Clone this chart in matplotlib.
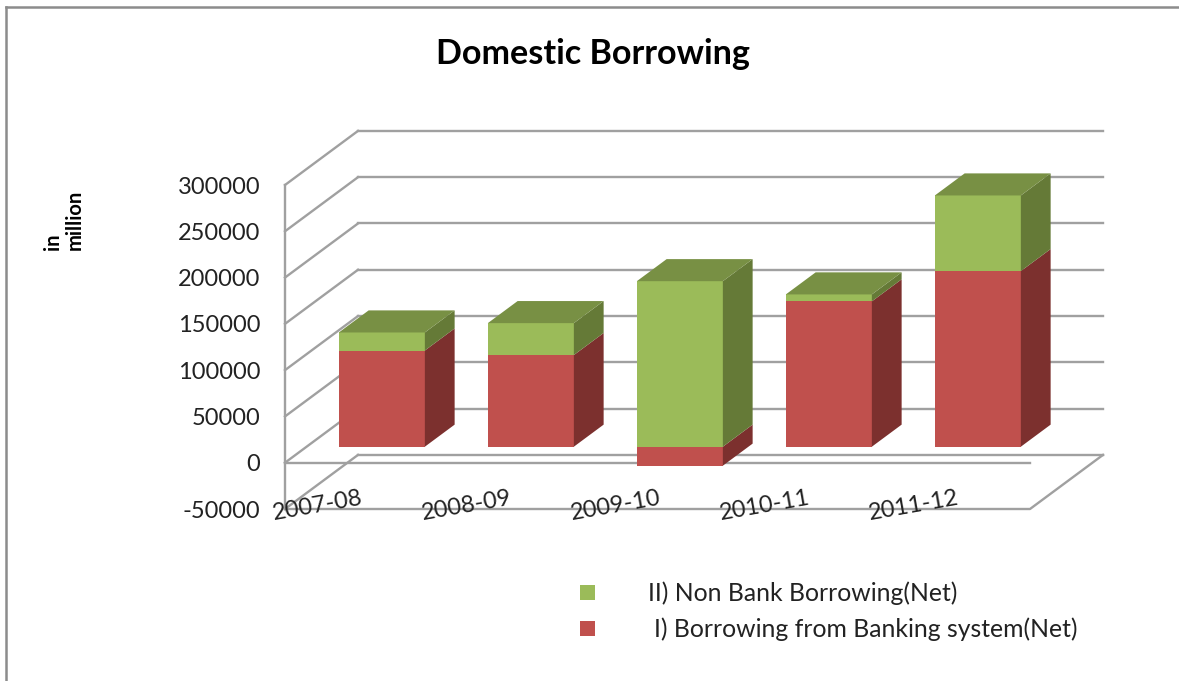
import matplotlib
matplotlib.use("Agg")
import matplotlib.pyplot as plt
from matplotlib.patches import Polygon, Rectangle
from matplotlib.lines import Line2D

categories = ["2007-08", "2008-09", "2009-10", "2010-11", "2011-12"]
banking = [103900, 99000, -20500, 157000, 189700]
non_bank = [19500, 34500, 178800, 7500, 81700]
y_ticks = [-50000, 0, 50000, 100000, 150000, 200000, 250000, 300000]

W, H = 1179, 681
RED, RED_SIDE = "#C0504D", "#7C302E"
GREEN, GREEN_SIDE, GREEN_TOP = "#9BBB59", "#657A37", "#789044"
GRID = "#A0A0A0"
FONT = "Lato"

# oblique depth: shift of the back wall, in data units
DEPTH_X = 73 / 149
DEPTH_Y = 54 / 0.000924
BAR_W = 86 / 149
BAR_D0, BAR_D1 = 0.296, 0.704


def proj(x, v, d=0.0):
    return (x + d * DEPTH_X, v + d * DEPTH_Y)


def px(x, y):
    return x / W, 1 - y / H


fig = plt.figure(figsize=(W / 100, H / 100), dpi=100)
fig.patch.set_facecolor("white")

# outer frame
for xs, ys in [((6, 6), (7, 681)), ((6, 1179), (7, 7))]:
    fig.add_artist(Line2D([a / W for a in xs], [1 - b / H for b in ys],
                          color="#8C8C8C", lw=1.8))

ax = fig.add_axes([285 / W, 1 - 509 / H, 745 / W, 324 / H])
ax.set_xlim(0, 5)
ax.set_ylim(-50000, 300000)
ax.patch.set_visible(False)
for s in ["top", "right", "bottom"]:
    ax.spines[s].set_visible(False)
ax.spines["left"].set_color(GRID)
ax.spines["left"].set_linewidth(1.7)
ax.set_xticks([])
ax.set_yticks(y_ticks)
ax.set_yticklabels([str(t) for t in y_ticks], fontsize=17, color="#222222", family=FONT)
ax.tick_params(axis="y", length=0, pad=17.7)

# back wall, left wall and floor
for t in y_ticks:
    back = [proj(0, t, 1), proj(5, t, 1)]
    left = [proj(0, t, 0), proj(0, t, 1)]
    for seg in (back, left):
        ax.plot(*zip(*seg), color=GRID, lw=1.7, clip_on=False, zorder=1)
floor = [proj(0, -50000), proj(5, -50000), proj(5, -50000, 1)]
ax.plot(*zip(*floor), color=GRID, lw=1.7, clip_on=False, zorder=1)
ax.plot(*zip(proj(0, 0), proj(5, 0)), color=GRID, lw=1.7, clip_on=False, zorder=1)


def draw_box(x0, x1, v0, v1, front, side, z):
    pts = [proj(x0, v0, BAR_D0), proj(x1, v0, BAR_D0), proj(x1, v1, BAR_D0), proj(x0, v1, BAR_D0)]
    ax.add_patch(Polygon(pts, facecolor=front, edgecolor="none", clip_on=False, zorder=z))
    pts = [proj(x1, v0, BAR_D0), proj(x1, v0, BAR_D1), proj(x1, v1, BAR_D1), proj(x1, v1, BAR_D0)]
    ax.add_patch(Polygon(pts, facecolor=side, edgecolor="none", clip_on=False, zorder=z))


for i in range(len(categories)):
    x0 = i + 0.505 - BAR_W / 2
    x1 = i + 0.505 + BAR_W / 2
    r, g = banking[i], non_bank[i]
    if r >= 0:
        draw_box(x0, x1, 0, r, RED, RED_SIDE, 3)
        g0, g1 = r, r + g
    else:
        draw_box(x0, x1, r, 0, RED, RED_SIDE, 3)
        g0, g1 = 0, g
    draw_box(x0, x1, g0, g1, GREEN, GREEN_SIDE, 3)
    top = [proj(x0, g1, BAR_D0), proj(x1, g1, BAR_D0), proj(x1, g1, BAR_D1), proj(x0, g1, BAR_D1)]
    ax.add_patch(Polygon(top, facecolor=GREEN_TOP, edgecolor="none", clip_on=False, zorder=3))

    ax.text(i + 0.22, -46500, categories[i], rotation=10, ha="center", va="center",
            fontsize=17, color="#222222", family=FONT, clip_on=False, zorder=4)

fig.text(*px(593, 54.5), "Domestic Borrowing", ha="center", va="center",
         fontsize=24.6, fontweight="bold", color="black", family=FONT)
fig.text(*px(64, 250), "in\nmillion", rotation=90, ha="center", va="bottom",
         multialignment="left", fontsize=14.5, fontweight="bold", linespacing=1.1,
         color="black", family=FONT)

# legend
legend_rows = [
    (GREEN, 593, 648, "II) Non Bank Borrowing(Net)"),
    (RED, 629, 654, "I) Borrowing from Banking system(Net)"),
]
for color, yc, xt, label in legend_rows:
    fig.add_artist(Rectangle(px(580, yc + 7), 15 / W, 15 / H, facecolor=color,
                             edgecolor="none", transform=fig.transFigure))
    fig.text(*px(xt, yc), label, ha="left", va="center", fontsize=17.8,
             color="#222222", family=FONT)

fig.savefig("out.png", dpi=100)
